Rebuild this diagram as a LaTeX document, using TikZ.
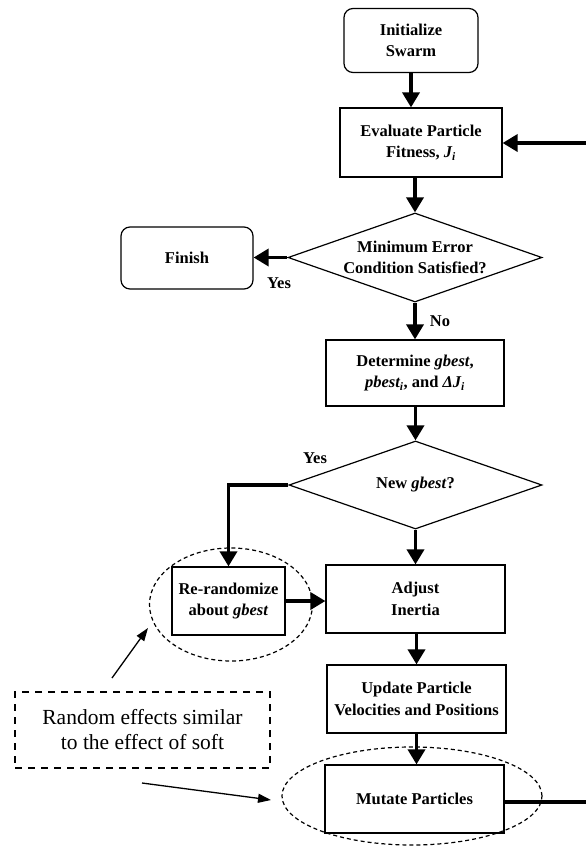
\documentclass[tikz,border=0pt]{standalone}
\usepackage{fontspec}
\setmainfont{Liberation Serif}
\usetikzlibrary{shapes.geometric,arrows.meta}
\begin{document}
\begin{tikzpicture}[x=1pt,y=-1pt,
  box/.style={draw, line width=1.2pt, inner sep=0pt, align=center,
    font=\fontsize{16.5}{21.5}\selectfont\bfseries},
  rbox/.style={box, rounded corners=9pt},
  dec/.style={box, diamond, shape aspect=2.85},
  arr/.style={line width=3.5pt, -{Triangle[width=17pt,length=15pt]}},
  plain/.style={line width=3.5pt},
  lab/.style={font=\fontsize{16.5}{20}\selectfont\bfseries, inner sep=0pt},
  ell/.style={draw, ellipse, line width=1.2pt, dash pattern=on 4pt off 3pt, inner sep=0pt},
  note/.style={draw, line width=1.4pt, dash pattern=on 7pt off 6pt, inner sep=0pt, align=center,
    font=\fontsize{21.5}{25}\selectfont},
  thin/.style={line width=1.3pt, -{Triangle[width=9pt,length=13pt]}}
]
\useasboundingbox (0,0) rectangle (586,846);

% dashed ellipses
\node[ell, minimum width=163pt, minimum height=113pt] (e1) at (231,604.5) {};
\node[ell, minimum width=260pt, minimum height=98pt] (e2) at (412,796) {};

% nodes
\node[rbox, minimum width=134pt, minimum height=64pt] (init) at (411,40.5) {Initialize\\Swarm};
\node[box, minimum width=162pt, minimum height=69pt] (eval) at (421,142.5) {Evaluate Particle\\Fitness, \textit{J\textsubscript{i}}};
\node[dec, minimum width=254pt, minimum height=89pt] (d1) at (415,257.5) {Minimum Error\\Condition Satisfied?};
\node[rbox, minimum width=132pt, minimum height=62pt] (fin) at (187,258) {Finish};
\node[box, minimum width=178pt, minimum height=66pt] (det) at (415,373) {Determine \textit{gbest},\\\textit{pbest\textsubscript{i}}, and \textit{ΔJ\textsubscript{i}}};
\node[dec, minimum width=253pt, minimum height=88pt] (d2) at (415.5,485) {New \textit{gbest}?};
\node[box, minimum width=113pt, minimum height=68pt] (rr) at (228.5,601) {Re-randomize\\about \textit{gbest}};
\node[box, minimum width=179pt, minimum height=68pt] (adj) at (415.5,599) {Adjust\\Inertia};
\node[box, minimum width=179pt, minimum height=68pt] (upd) at (416.5,699) {Update Particle\\Velocities and Positions};
\node[box, minimum width=179pt, minimum height=68pt] (mut) at (414.5,799) {Mutate Particles};
\node[note, minimum width=255pt, minimum height=76pt] (nt) at (142.5,730) {Random effects similar\\to the effect of soft};

% loop ends at the picture edge
\coordinate (loopin) at (586,143);
\coordinate (loopout) at (586,802);

% connectors
\draw[arr] (init.south) -- (init.south |- eval.north);
\draw[arr] (loopin) -- (eval.east |- loopin);
\draw[arr] (eval.south -| d1.north) -- (d1.north);
\draw[arr] (d1.west) -- (fin.east |- d1.west);
\draw[arr] (d1.south) -- (det.north -| d1.south);
\draw[arr] (det.south -| d2.north) -- (d2.north);
\draw[arr] (d2.west) -- (rr.north |- d2.west) -- (rr.north);
\draw[arr] (d2.south) -- (adj.north -| d2.south);
\draw[arr] (rr.east) -- (adj.west |- rr.east);
\draw[arr] (adj.south -| upd.north) -- (upd.north);
\draw[arr] (upd.south) -- (mut.north -| upd.south);
\draw[plain] (mut.east |- loopout) -- (loopout);

% labels
\node[lab] (y1) at (279,283) {Yes};
\node[lab] (n1) at (440,321) {No};
\node[lab] (y2) at (315,458) {Yes};

% annotation arrows
\coordinate (a1s) at (112,678);
\coordinate (a1e) at (148,628);
\coordinate (a2s) at (142,783);
\coordinate (a2e) at (271,800);
\draw[thin] (a1s) -- (a1e);
\draw[thin] (a2s) -- (a2e);
\end{tikzpicture}
\end{document}
